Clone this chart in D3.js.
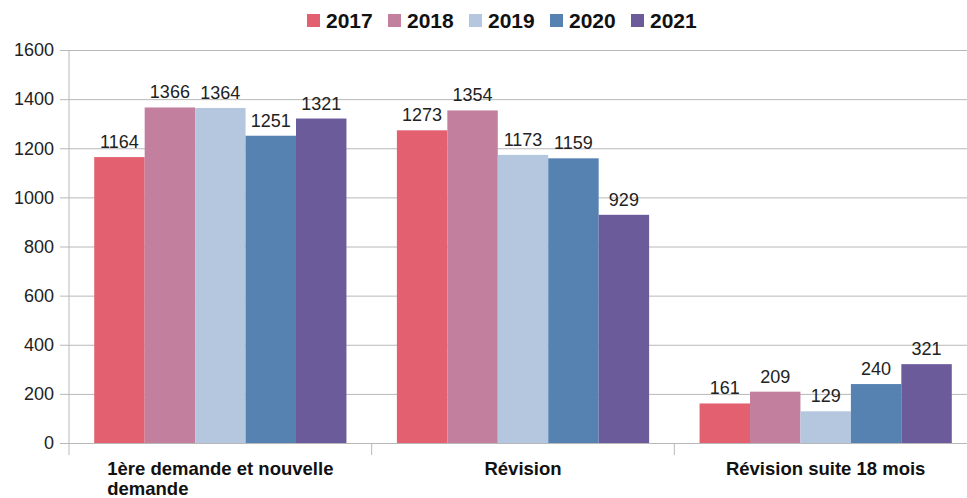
<!DOCTYPE html>
<html>
<head>
<meta charset="utf-8">
<script src="https://cdn.jsdelivr.net/npm/d3@7"></script>
<style>
  body { margin: 0; background: #fff; }
  svg text { font-family: "Liberation Sans", Arial, sans-serif; }
</style>
</head>
<body>
<div id="chart"></div>
<script>
const categories = ["1ère demande et nouvelle demande", "Révision", "Révision suite 18 mois"];
const years = ["2017", "2018", "2019", "2020", "2021"];
const values2017 = [1164, 1273, 161];
const values2018 = [1366, 1354, 209];
const values2019 = [1364, 1173, 129];
const values2020 = [1251, 1159, 240];
const values2021 = [1321, 929, 321];
const yTicks = [0, 200, 400, 600, 800, 1000, 1200, 1400, 1600];
const colors = ["#e2606f", "#c27f9e", "#b4c7df", "#5682b2", "#6b5b9b"];

const series = [values2017, values2018, values2019, values2020, values2021];
const rows = categories.map((c, i) => ({
    category: c,
    values: years.map((y, j) => ({ year: y, value: series[j][i] }))
}));

const width = 967, height = 498;
const margin = { top: 50, right: -10, bottom: 55, left: 69 };

const svg = d3.select("#chart")
    .append("svg")
    .attr("width", width)
    .attr("height", height);

const x0 = d3.scaleBand()
    .domain(categories)
    .range([margin.left, width - margin.right]);

const x1 = d3.scaleBand()
    .domain(years)
    .range([0, x0.bandwidth()])
    .paddingOuter(0.5);

const y = d3.scaleLinear()
    .domain([0, 1600])
    .range([height - margin.bottom, margin.top]);

const color = d3.scaleOrdinal(years, colors);

// gridlines + y labels
const yAxis = svg.append("g")
    .attr("transform", `translate(${margin.left},0)`)
    .call(d3.axisLeft(y)
        .tickValues(yTicks)
        .tickFormat(d3.format("d"))
        .tickSize(-(width - margin.left))
        .tickSizeOuter(0));
yAxis.select(".domain").remove();
yAxis.selectAll("line")
    .attr("x1", -9)
    .attr("stroke", "#b8b8b8");
yAxis.selectAll("text")
    .style("font-size", "18px")
    .attr("fill", "#222")
    .attr("x", -15);

// vertical axis line
svg.append("line")
    .attr("x1", margin.left).attr("x2", margin.left)
    .attr("y1", margin.top).attr("y2", y(0) + 12)
    .attr("stroke", "#b8b8b8");

// category separators
svg.append("g")
    .selectAll("line")
    .data(categories.slice(1))
    .join("line")
    .attr("x1", d => x0(d)).attr("x2", d => x0(d))
    .attr("y1", y(0)).attr("y2", y(0) + 12)
    .attr("stroke", "#b8b8b8");

// bars
const group = svg.append("g")
    .selectAll("g")
    .data(rows)
    .join("g")
    .attr("transform", d => `translate(${x0(d.category)},0)`);

group.selectAll("rect")
    .data(d => d.values)
    .join("rect")
    .attr("x", d => x1(d.year))
    .attr("y", d => y(d.value))
    .attr("width", x1.bandwidth())
    .attr("height", d => y(0) - y(d.value))
    .attr("fill", d => color(d.year));

group.selectAll("text")
    .data(d => d.values)
    .join("text")
    .attr("x", d => x1(d.year) + x1.bandwidth() / 2)
    .attr("y", d => y(d.value) - 9)
    .attr("text-anchor", "middle")
    .style("font-size", "18px")
    .attr("fill", "#222")
    .text(d => d.value);

// category labels (wrapped, left-aligned block centred in band)
const maxLabel = 250;
svg.append("g")
    .selectAll("text")
    .data(categories)
    .join("text")
    .style("font-size", "18.5px")
    .style("font-weight", "bold")
    .attr("fill", "#111")
    .each(function (d) {
        const t = d3.select(this);
        const words = d.split(" ");
        const lines = [];
        let line = [];
        const probe = t.append("tspan");
        words.forEach(w => {
            line.push(w);
            probe.text(line.join(" "));
            if (probe.node().getComputedTextLength() > maxLabel && line.length > 1) {
                line.pop();
                lines.push(line.join(" "));
                line = [w];
            }
        });
        lines.push(line.join(" "));
        probe.text(lines[0]);
        const w0 = probe.node().getComputedTextLength();
        probe.remove();
        const cx = x0(d) + x0.bandwidth() / 2;
        const left = lines.length > 1 ? cx - w0 / 2 : null;
        lines.forEach((l, i) => {
            t.append("tspan")
                .attr("x", left !== null ? left : cx)
                .attr("y", y(0) + 32 + i * 20)
                .attr("text-anchor", left !== null ? "start" : "middle")
                .text(l);
        });
    });

// legend
const legend = svg.append("g")
    .selectAll("g")
    .data(years)
    .join("g")
    .attr("transform", (d, i) => `translate(${307 + i * 81},14)`);
legend.append("rect")
    .attr("width", 13).attr("height", 13)
    .attr("fill", d => color(d));
legend.append("text")
    .attr("x", 19)
    .attr("y", 13.5)
    .style("font-size", "21px")
    .style("font-weight", "bold")
    .attr("fill", "#111")
    .text(d => d);
</script>
</body>
</html>
